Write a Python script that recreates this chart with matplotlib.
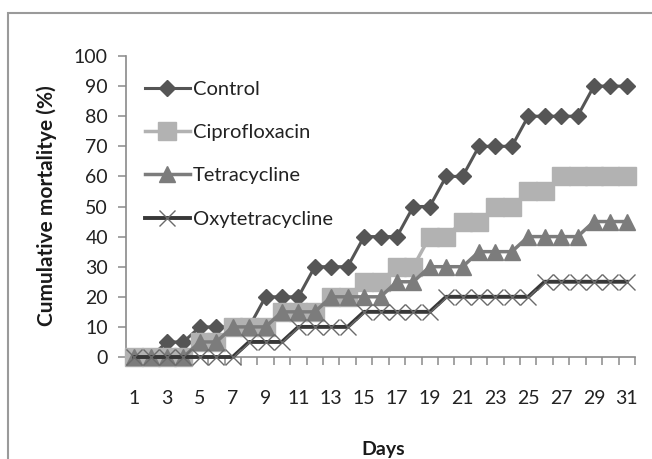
import matplotlib
matplotlib.use("Agg")
import matplotlib.pyplot as plt
from matplotlib.patches import Rectangle

plt.rcParams['font.family'] = ['Lato', 'DejaVu Sans']

days = list(range(1, 32))
control = [0, 0, 5, 5, 10, 10, 10, 10, 20, 20, 20, 30, 30, 30, 40, 40, 40, 50, 50, 60,
           60, 70, 70, 70, 80, 80, 80, 80, 90, 90, 90]
ciprofloxacin = [0, 0, 0, 0, 5, 5, 10, 10, 10, 15, 15, 15, 20, 20, 25, 25, 30, 30, 40, 40,
                 45, 45, 50, 50, 55, 55, 60, 60, 60, 60, 60]
tetracycline = [0, 0, 0, 0, 5, 5, 10, 10, 10, 15, 15, 15, 20, 20, 20, 20, 25, 25, 30, 30,
                30, 35, 35, 35, 40, 40, 40, 40, 45, 45, 45]
oxytetracycline = [0, 0, 0, 0, 0, 0, 0, 5, 5, 5, 10, 10, 10, 10, 15, 15, 15, 15, 15, 20,
                   20, 20, 20, 20, 20, 25, 25, 25, 25, 25, 25]
series_names = ['Control', 'Ciprofloxacin', 'Tetracycline', 'Oxytetracycline']
day_labels = [str(d) for d in range(1, 32, 2)]
y_ticks = list(range(0, 101, 10))

W, H = 652, 459
fig = plt.figure(figsize=(W / 100, H / 100), dpi=100)

# chart-area border
fig.patches.append(Rectangle((8 / W, -0.1), 1.2, 1.1 - 13 / H, transform=fig.transFigure,
                             fill=False, edgecolor='#9a9a9a', linewidth=1.5))

ax = fig.add_axes([126 / W, (H - 357) / H, (635 - 126) / W, (357 - 56) / H])

ax.plot(days, control, color='#555555', lw=2.2, marker='D', ms=8,
        mfc='#555555', mec='#555555', clip_on=False, label=series_names[0], zorder=3)
ax.plot(days, ciprofloxacin, color='#b2b2b2', lw=2.5, marker='s', ms=12.5,
        mfc='#b2b2b2', mec='#b2b2b2', clip_on=False, label=series_names[1], zorder=4)
ax.plot(days, tetracycline, color='#7c7c7c', lw=2.5, marker='^', ms=11,
        mfc='#7c7c7c', mec='#7c7c7c', clip_on=False, label=series_names[2], zorder=5)
ax.plot(days, oxytetracycline, color='#383838', lw=2.8, marker='x', ms=11.5,
        mec='#6a6a6a', mew=1.0, clip_on=False, label=series_names[3], zorder=6)

ax.set_xlim(0.5, 31.5)
ax.set_ylim(0, 100)

for s in ['top', 'right']:
    ax.spines[s].set_visible(False)
for s in ['left', 'bottom']:
    ax.spines[s].set_color('#8a8a8a')
    ax.spines[s].set_linewidth(1.2)

ax.set_xticks([d + 0.5 for d in range(0, 32)])
ax.set_xticklabels([])
ax.set_xticks(list(range(1, 32, 2)), labels=day_labels, minor=True)
ax.tick_params(axis='x', which='major', direction='out', length=6, width=1.1, color='#8a8a8a')
ax.tick_params(axis='x', which='minor', length=0, pad=24, labelsize=14, labelcolor='#222222')

ax.set_yticks(y_ticks)
ax.tick_params(axis='y', direction='out', length=6, width=1.1, color='#8a8a8a',
               pad=7, labelsize=14, labelcolor='#222222')

fig.text(47 / W, 1 - 206 / H, 'Cumulative mortalitye (%)', rotation=90, ha='center', va='center',
         fontsize=15, fontweight='bold', color='#1a1a1a')
fig.text(383 / W, 1 - 449 / H, 'Days', ha='center', va='center',
         fontsize=14, fontweight='bold', color='#1a1a1a')

leg = ax.legend(loc='upper left', bbox_to_anchor=(0.037, 0.918), frameon=False, fontsize=14.5,
                numpoints=1, handlelength=2.25, handletextpad=0.15, labelspacing=1.3,
                borderpad=0, borderaxespad=0)
for t in leg.get_texts():
    t.set_color('#222222')

fig.savefig('out.png', dpi=100)
